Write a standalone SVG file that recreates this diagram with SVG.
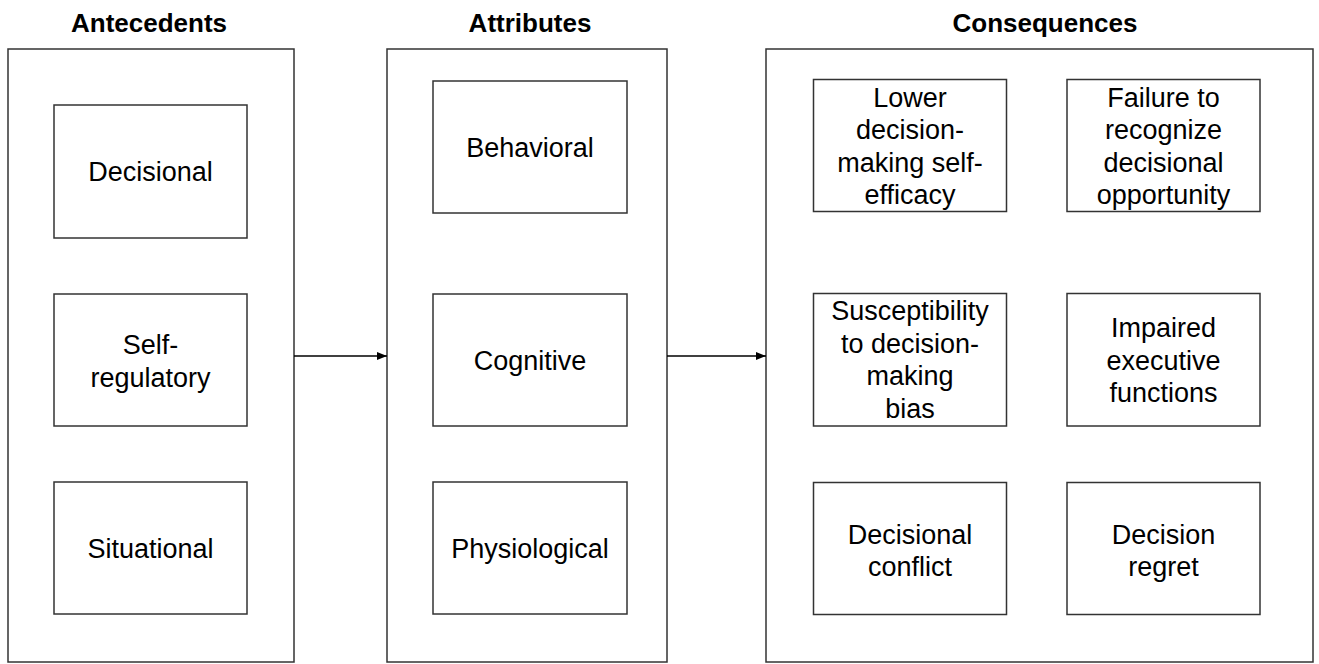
<svg xmlns="http://www.w3.org/2000/svg" width="1319" height="664" viewBox="0 0 1319 664">
<defs>
<style>
.frame{fill:#fff;stroke:#333;stroke-width:1.5}
.box{fill:#fff;stroke:#333;stroke-width:1.5}
.t{font-family:"Liberation Sans",Arial,sans-serif;font-size:27px;fill:#000;text-anchor:middle}
.h{font-family:"Liberation Sans",Arial,sans-serif;font-size:26px;font-weight:bold;fill:#000;text-anchor:middle}
.c{stroke:#000;stroke-width:1.5;fill:none}
</style>
<marker id="arr" viewBox="0 0 10 8" refX="10" refY="4" markerWidth="10" markerHeight="8" markerUnits="userSpaceOnUse" orient="auto">
<path d="M0,0 L10,4 L0,8 z" fill="#000"/>
</marker>
</defs>
<rect width="1319" height="664" fill="#fff"/>
<g id="antecedents">
<text class="h" x="149" y="32">Antecedents</text>
<rect class="frame" x="8" y="49" width="286" height="613"/>
</g>
<g id="attributes">
<text class="h" x="530" y="32">Attributes</text>
<rect class="frame" x="387" y="49" width="280" height="613"/>
</g>
<g id="consequences">
<text class="h" x="1045" y="32">Consequences</text>
<rect class="frame" x="766" y="49" width="547" height="613"/>
</g>
<g id="decisional">
<rect class="box" x="54" y="105" width="193" height="133"/>
<text class="t" x="150.5" y="181">Decisional</text>
</g>
<g id="self-regulatory">
<rect class="box" x="54" y="294" width="193" height="132"/>
<text class="t" x="150.5" y="354">Self-</text>
<text class="t" x="150.5" y="386.5">regulatory</text>
</g>
<g id="situational">
<rect class="box" x="54" y="482" width="193" height="132"/>
<text class="t" x="150.5" y="557.5">Situational</text>
</g>
<g id="behavioral">
<rect class="box" x="433" y="81" width="194" height="132"/>
<text class="t" x="530" y="156.5">Behavioral</text>
</g>
<g id="cognitive">
<rect class="box" x="433" y="294" width="194" height="132"/>
<text class="t" x="530" y="369.5">Cognitive</text>
</g>
<g id="physiological">
<rect class="box" x="433" y="482" width="194" height="132"/>
<text class="t" x="530" y="557.5">Physiological</text>
</g>
<g id="lower-self-efficacy">
<rect class="box" x="813.5" y="79.5" width="193" height="132"/>
<text class="t" x="910" y="106.5">Lower</text>
<text class="t" x="910" y="139">decision-</text>
<text class="t" x="910" y="171.5">making self-</text>
<text class="t" x="910" y="204">efficacy</text>
</g>
<g id="failure-to-recognize">
<rect class="box" x="1067" y="79.5" width="193" height="132"/>
<text class="t" x="1163.5" y="106.5">Failure to</text>
<text class="t" x="1163.5" y="139">recognize</text>
<text class="t" x="1163.5" y="171.5">decisional</text>
<text class="t" x="1163.5" y="204">opportunity</text>
</g>
<g id="susceptibility">
<rect class="box" x="813.5" y="293.5" width="193" height="132.5"/>
<text class="t" x="910" y="320">Susceptibility</text>
<text class="t" x="910" y="352.5">to decision-</text>
<text class="t" x="910" y="385">making</text>
<text class="t" x="910" y="417.5">bias</text>
</g>
<g id="impaired-executive">
<rect class="box" x="1067" y="293.5" width="193" height="132.5"/>
<text class="t" x="1163.5" y="337">Impaired</text>
<text class="t" x="1163.5" y="369.5">executive</text>
<text class="t" x="1163.5" y="402">functions</text>
</g>
<g id="decisional-conflict">
<rect class="box" x="813.5" y="482.5" width="193" height="132"/>
<text class="t" x="910" y="543.5">Decisional</text>
<text class="t" x="910" y="576">conflict</text>
</g>
<g id="decision-regret">
<rect class="box" x="1067" y="482.5" width="193" height="132"/>
<text class="t" x="1163.5" y="543.5">Decision</text>
<text class="t" x="1163.5" y="576">regret</text>
</g>
<g id="connectors">
<line class="c" x1="294" y1="356" x2="387" y2="356" marker-end="url(#arr)"/>
<line class="c" x1="667" y1="356" x2="766" y2="356" marker-end="url(#arr)"/>
</g>
</svg>
